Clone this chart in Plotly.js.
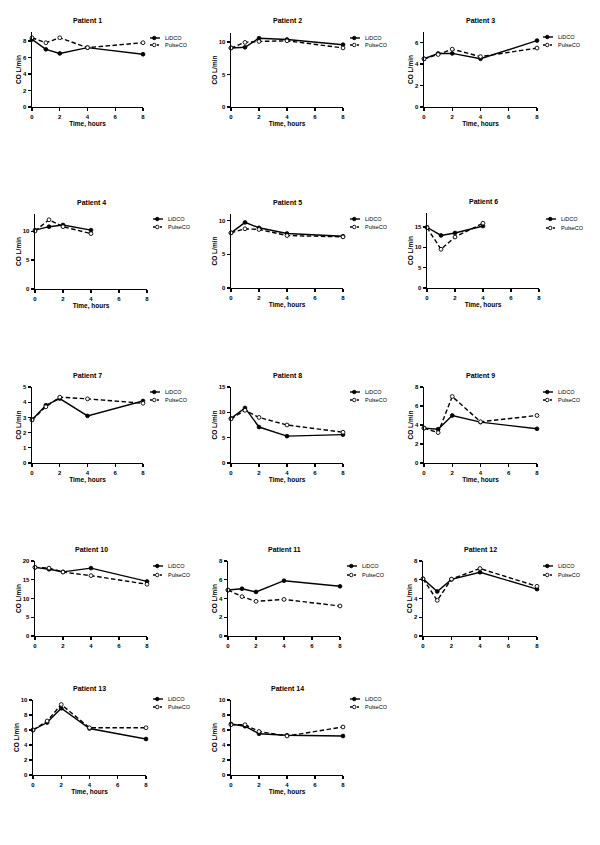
<!DOCTYPE html>
<html><head><meta charset="utf-8">
<script src="https://cdn.plot.ly/plotly-3.0.1.min.js"></script>
<style>html,body{margin:0;padding:0;background:#fff}#chart{width:600px;height:845px}</style>
</head><body><div id="chart"></div>
<script>
// ---------- DATA ----------
const hours = [0, 1, 2, 4, 8];
const hoursShort = [0, 1, 2, 4];
const seriesNames = ['LiDCO', 'PulseCO'];
const xTickVals = [0, 2, 4, 6, 8];
const patientTitles = ['Patient 1','Patient 2','Patient 3','Patient 4','Patient 5','Patient 6','Patient 7',
  'Patient 8','Patient 9','Patient 10','Patient 11','Patient 12','Patient 13','Patient 14'];

const p1_lidco = [8.2, 7.0, 6.5, 7.2, 6.4];
const p1_pulse = [8.4, 7.8, 8.4, 7.2, 7.8];
const p2_lidco = [9.1, 9.2, 10.6, 10.4, 9.6];
const p2_pulse = [9.1, 9.95, 10.1, 10.2, 9.1];
const p3_lidco = [4.5, 5.0, 5.0, 4.5, 6.2];
const p3_pulse = [4.5, 4.9, 5.4, 4.7, 5.5];
const p4_lidco = [10.2, 10.8, 11.1, 10.2];
const p4_pulse = [10.05, 12.0, 10.8, 9.6];
const p5_lidco = [8.2, 9.75, 8.95, 8.1, 7.7];
const p5_pulse = [8.2, 8.8, 8.7, 7.8, 7.6];
const p6_lidco = [14.9, 12.9, 13.5, 15.2];
const p6_pulse = [14.8, 9.5, 12.5, 15.9];
const p7_lidco = [2.85, 3.8, 4.24, 3.1, 4.08];
const p7_pulse = [2.83, 3.7, 4.33, 4.22, 3.93];
const p8_lidco = [8.8, 10.87, 7.1, 5.3, 5.6];
const p8_pulse = [8.7, 10.4, 9.0, 7.5, 6.07];
const p9_lidco = [3.67, 3.56, 5.0, 4.3, 3.6];
const p9_pulse = [3.67, 3.2, 7.0, 4.34, 5.0];
const p10_lidco = [18.3, 17.8, 17.1, 18.1, 14.55];
const p10_pulse = [18.3, 18.1, 17.05, 16.1, 13.8];
const p11_lidco = [4.9, 5.04, 4.7, 5.9, 5.3];
const p11_pulse = [4.9, 4.2, 3.7, 3.9, 3.2];
const p12_lidco = [6.1, 4.75, 6.04, 6.8, 5.0];
const p12_pulse = [6.1, 3.8, 6.07, 7.2, 5.3];
const p13_lidco = [6.0, 7.0, 8.9, 6.2, 4.8];
const p13_pulse = [6.0, 7.2, 9.4, 6.3, 6.3];
const p14_lidco = [6.8, 6.5, 5.5, 5.3, 5.2];
const p14_pulse = [6.7, 6.7, 5.8, 5.2, 6.4];

const panelX = [hours, hours, hours, hoursShort, hours, hoursShort, hours, hours, hours, hours, hours, hours, hours, hours];
const panelLidco = [p1_lidco,p2_lidco,p3_lidco,p4_lidco,p5_lidco,p6_lidco,p7_lidco,p8_lidco,p9_lidco,p10_lidco,p11_lidco,p12_lidco,p13_lidco,p14_lidco];
const panelPulse = [p1_pulse,p2_pulse,p3_pulse,p4_pulse,p5_pulse,p6_pulse,p7_pulse,p8_pulse,p9_pulse,p10_pulse,p11_pulse,p12_pulse,p13_pulse,p14_pulse];
const yTop = [9.1, 11.4, 7, 13, 11, 18.4, 5, 15, 8, 20, 8, 8, 10, 10];
const yStep = [2, 5, 2, 5, 5, 5, 1, 5, 2, 5, 2, 2, 2, 2];

// ---------- LAYOUT GEOMETRY (px): left, right, top, bottom ----------
const W = 600, H = 845;
const geo = [
  [32,143,32,107],[231,343,33,107],[424,537,32,107],
  [35,147,214,289],[231,343,214,288],[427,539,213,288],
  [32,143,387,463],[231,343,387,463],[424,537,387,463],
  [35,147,561,636],[228,340,561,636],[423,537,561,636],
  [33,146,700,775],[231,343,700,775]
];
const showXTitle = [true,true,true,true,true,true,true,true,true,false,false,false,true,true];
// legend key left x, y of first and second entry
const legPos = [
  [150,38,45],[350,38,45],[543,37,45],
  [153,219,227],[350,219,227],[546,219,228],
  [150,392,400],[350,392,400],[543,392,400],
  [153,566,575],[347,566,575],[543,566,575],
  [153,699,707],[350,699,707]
];

const FONT = 'Liberation Sans, Arial, sans-serif';
const LW = 1.4;
const px = v => v / W;
const py = v => 1 - v / H;

const traces = [];
const layout = {
  width: W, height: H, autosize: false,
  margin: {l:0, r:0, t:0, b:0},
  paper_bgcolor: '#fff', plot_bgcolor: 'rgba(0,0,0,0)',
  showlegend: false,
  font: {family: FONT, color: '#000'},
  annotations: [], shapes: []
};

const styles = [
  {line: {color:'#000', width: LW}, marker: {symbol:'circle', size:3.8, color:'#000', line:{color:'#000', width:0.8}}},
  {line: {color:'#000', width: LW, dash:'4.5px,2.5px'}, marker: {symbol:'circle', size:3.8, color:'#fff', line:{color:'#000', width:0.9}}}
];
const titleFont = {family: FONT, size: 6.5, weight: 'bold', color: '#000'};
const tickFont = {family: FONT, size: 6, weight: 'bold', color: '#000'};

for (let i = 0; i < 14; i++) {
  const s = i === 0 ? '' : String(i + 1);
  const [l, r, t, b] = geo[i];
  [panelLidco[i], panelPulse[i]].forEach((ys, k) => {
    traces.push({
      type: 'scatter', mode: 'lines+markers', name: seriesNames[k],
      x: panelX[i], y: ys, xaxis: 'x' + s, yaxis: 'y' + s,
      line: styles[k].line, marker: styles[k].marker, cliponaxis: false,
      hoverinfo: 'skip'
    });
  });
  layout['xaxis' + s] = {
    domain: [px(l), px(r)], anchor: 'y' + s, range: [0, 8],
    tickvals: xTickVals, ticks: 'outside', ticklen: 3, tickwidth: LW, tickcolor: '#000',
    showline: true, linewidth: LW, linecolor: '#000', showgrid: false, zeroline: false,
    tickfont: tickFont, fixedrange: true,
    title: showXTitle[i] ? {text: 'Time, hours', font: titleFont, standoff: 1} : {text: ''}
  };
  layout['yaxis' + s] = {
    domain: [py(b), py(t)], anchor: 'x' + s, range: [0, yTop[i]],
    tick0: 0, dtick: yStep[i], ticks: 'outside', ticklen: 3, tickwidth: LW, tickcolor: '#000',
    showline: true, linewidth: LW, linecolor: '#000', showgrid: false, zeroline: false,
    tickfont: tickFont, fixedrange: true,
    title: {text: 'CO L/min', font: titleFont, standoff: 0}
  };
  layout.annotations.push({
    xref: 'paper', yref: 'paper', x: px((l + r) / 2), y: py(t - 12),
    xanchor: 'center', yanchor: 'middle', showarrow: false,
    text: '<b>' + patientTitles[i] + '</b>', font: {family: FONT, size: 7, color: '#000'}
  });
  // legend
  const [kx, ky1, ky2] = legPos[i];
  [ky1, ky2].forEach((ky, k) => {
    layout.shapes.push({
      type: 'line', xref: 'paper', yref: 'paper',
      x0: px(kx), x1: px(kx + 10), y0: py(ky), y1: py(ky),
      line: {color: '#000', width: LW, dash: k === 0 ? 'solid' : '2px,1.5px'}
    });
    layout.shapes.push({
      type: 'circle', xref: 'paper', yref: 'paper',
      x0: px(kx + 2.5), x1: px(kx + 6), y0: py(ky + 1.75), y1: py(ky - 1.75),
      fillcolor: k === 0 ? '#000' : '#fff', line: {color: '#000', width: 0.9}
    });
    layout.annotations.push({
      xref: 'paper', yref: 'paper', x: px(kx + 13), y: py(ky),
      xanchor: 'left', yanchor: 'middle', showarrow: false,
      text: seriesNames[k], font: {family: FONT, size: 5.5, color: '#000'}
    });
  });
}

Plotly.newPlot('chart', traces, layout, {staticPlot: true, displayModeBar: false});
</script>
</body></html>
